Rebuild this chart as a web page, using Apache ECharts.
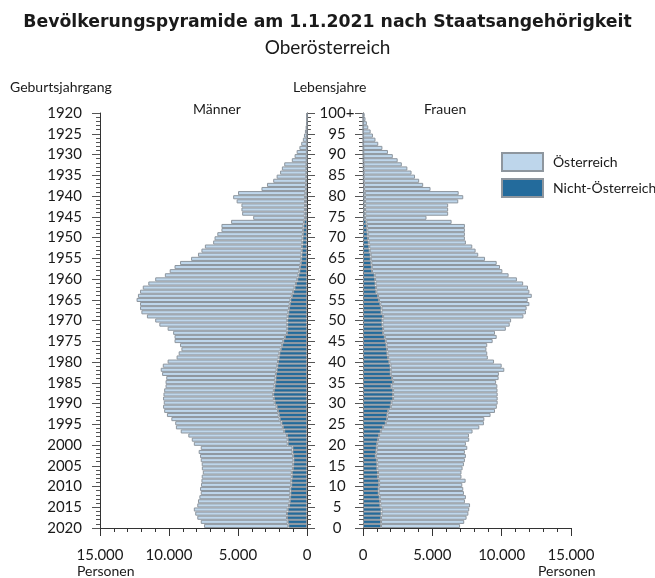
<!DOCTYPE html>
<html>
<head>
<meta charset="utf-8">
<script src="https://cdn.jsdelivr.net/npm/echarts@6/dist/echarts.min.js"></script>
<style>
  html, body { margin: 0; padding: 0; background: #fff; }
  #main { width: 655px; height: 578px; }
</style>
</head>
<body>
<div id="main"></div>
<script>
// Alter 0 .. 100+ (Index = Lebensjahre)
var ages = [];
for (var a = 0; a <= 100; a++) ages.push(a === 100 ? '100+' : String(a));

// Männer
var menAT = [6110,6300,6500,6650,6800,6650,6650,6580,6500,6550,
  6540,6510,6530,6450,6600,6630,6720,6750,6800,6650,
  6800,6950,7150,7500,7750,7700,7850,8100,8250,8230,
  8040,8030,7950,7950,7900,7950,7920,8250,8400,8300,
  8000,7400,7300,7200,7400,7880,8000,8250,8670,9270,
  9570,10200,10650,10800,10850,11150,11150,11100,11000,10700,
  10300,9680,9400,9100,8750,7980,7500,7270,7040,6460,
  6380,6200,5920,5940,5280,3750,4540,4600,4610,4960,
  5210,4880,3220,2830,2390,2150,1910,1780,1620,1080,
  880,740,540,410,295,215,145,100,70,40,30];
var menNonAT = [1350,1400,1450,1450,1400,1300,1250,1220,1200,1200,
  1140,1140,1100,1100,1020,1000,980,1000,1050,1050,
  1400,1400,1450,1650,1750,1850,1980,2050,2100,2200,
  2340,2400,2450,2400,2350,2300,2280,2250,2200,2150,
  2100,2050,2000,1900,1800,1720,1600,1450,1430,1430,
  1430,1400,1350,1300,1250,1200,1100,1000,900,800,
  700,620,550,500,450,420,400,380,360,340,
  320,300,280,260,220,150,160,150,140,140,
  140,120,80,70,60,50,40,40,30,20,
  20,10,10,10,5,5,5,0,0,0,0];

// Frauen
var womenAT = [5700,6000,6170,6270,6330,6470,6120,6220,6150,6100,
  6000,6240,6020,6020,6150,6250,6350,6500,6390,6530,
  6400,6580,6480,6620,6940,7080,7020,7440,7710,7650,
  7660,7540,7540,7530,7640,7430,7680,7800,8190,8020,
  7550,7190,7200,7170,7270,7710,8070,8070,8850,9180,
  9280,10120,10420,10470,10750,10730,11090,11040,10970,10650,
  10230,9660,9400,9250,9040,8240,7760,7640,7430,7010,
  6990,7010,7040,7070,6150,4430,5980,5990,5990,6720,
  7090,6770,4790,4270,3990,3700,3450,3160,2760,2470,
  2120,1780,1380,1090,890,710,545,375,275,175,115];
var womenNonAT = [1300,1300,1300,1330,1330,1250,1230,1200,1130,1130,
  1160,1160,1080,1080,1030,1030,1000,920,960,990,
  1020,1080,1160,1280,1450,1640,1730,1760,1810,2000,
  2050,2170,2170,2170,2050,2170,2100,2000,2000,1980,
  1900,1810,1760,1730,1690,1640,1570,1450,1450,1400,
  1400,1450,1330,1330,1250,1150,1080,960,930,900,
  870,840,650,630,600,560,550,480,450,410,
  360,340,310,280,240,150,160,150,150,150,
  140,130,80,70,60,50,50,40,40,30,
  30,20,20,10,10,10,5,5,5,5,5];

var FONT = 'Lato';
var TXT = '#1a1a1a';
var LIGHT = '#bed6eb';
var DARK = '#236b9c';
var EDGE = '#8e969e';

function fmt(v) {
  return String(v).replace(/\B(?=(\d{3})+(?!\d))/g, '.');
}

var myChart = echarts.init(document.getElementById('main'));

function txt(text, left, top, size, weight, family) {
  return {
    text: text, left: left, top: top, padding: 0,
    textStyle: { fontFamily: family || FONT, fontSize: size, fontWeight: weight || 'normal', color: TXT }
  };
}

var xCommon = {
  type: 'value', min: 0, max: 15000, interval: 5000,
  splitLine: { show: false },
  axisLine: { show: true, lineStyle: { color: '#333', width: 1 } },
  axisTick: { show: true, length: 8, lineStyle: { color: '#333' } },
  minorTick: { show: true, splitNumber: 5, length: 4, lineStyle: { color: '#333' } },
  axisLabel: { fontFamily: FONT, fontSize: 15, color: TXT, margin: 20, formatter: fmt }
};

var yTicks = {
  type: 'value', min: 0, max: 100, interval: 5,
  splitLine: { show: false },
  axisLine: { show: true, lineStyle: { color: '#333', width: 1 } },
  axisTick: { show: true, length: 8, lineStyle: { color: '#555' } },
  minorTick: { show: true, splitNumber: 5, length: 4, lineStyle: { color: '#555' } }
};

var barStyle = function (c) {
  return { color: c, borderColor: EDGE, borderWidth: 1 };
};

var option = {
  animation: false,
  title: [
    txt('Bevölkerungspyramide am 1.1.2021 nach Staatsangehörigkeit', 'center', 14, 17.3, 'bold', 'DejaVu Sans'),
    txt('Oberösterreich', 'center', 38, 19),
    txt('Geburtsjahrgang', 10, 80, 14),
    txt('Lebensjahre', 293, 80, 14),
    txt('Männer', 193, 102, 14),
    txt('Frauen', 424, 102, 14),
    txt('Personen', 77, 564, 14),
    txt('Personen', 538, 564, 14)
  ],
  legend: {
    data: ['Österreich', 'Nicht-Österreich'],
    orient: 'vertical', left: 501, top: 152,
    itemWidth: 41, itemHeight: 18, itemGap: 6, padding: 0,
    icon: 'rect',
    textStyle: { fontFamily: FONT, fontSize: 14, color: TXT, padding: [0, 0, 0, 5] }
  },
  grid: [
    { left: 100, right: 348, top: 113, bottom: 50 },
    { left: 363, right: 84, top: 113, bottom: 50 }
  ],
  xAxis: [
    Object.assign({}, xCommon, { gridIndex: 0, inverse: true }),
    Object.assign({}, xCommon, { gridIndex: 1 })
  ],
  yAxis: [
    // Balken Männer
    { type: 'category', gridIndex: 0, data: ages, show: false },
    // Lebensjahre-Striche links (zur Mitte)
    Object.assign({}, yTicks, { gridIndex: 0, position: 'right', axisLabel: { show: false } }),
    // Geburtsjahrgang
    Object.assign({}, yTicks, {
      gridIndex: 0, position: 'left',
      axisLabel: { fontFamily: FONT, fontSize: 15, color: TXT, margin: 18,
        formatter: function (v) { return 2020 - v; } }
    }),
    // Balken Frauen
    { type: 'category', gridIndex: 1, data: ages, show: false },
    // Lebensjahre
    Object.assign({}, yTicks, {
      gridIndex: 1, position: 'left',
      axisLabel: { fontFamily: FONT, fontSize: 15, color: TXT, margin: 26, align: 'center',
        formatter: function (v) { return v === 100 ? '100+' : v; } }
    })
  ],
  series: [
    { name: 'Nicht-Österreich', type: 'bar', stack: 'm', xAxisIndex: 0, yAxisIndex: 0,
      barCategoryGap: '0%', itemStyle: barStyle(DARK), data: menNonAT },
    { name: 'Österreich', type: 'bar', stack: 'm', xAxisIndex: 0, yAxisIndex: 0,
      barCategoryGap: '0%', itemStyle: barStyle(LIGHT), data: menAT },
    { name: 'Nicht-Österreich', type: 'bar', stack: 'f', xAxisIndex: 1, yAxisIndex: 3,
      barCategoryGap: '0%', itemStyle: barStyle(DARK), data: womenNonAT },
    { name: 'Österreich', type: 'bar', stack: 'f', xAxisIndex: 1, yAxisIndex: 3,
      barCategoryGap: '0%', itemStyle: barStyle(LIGHT), data: womenAT }
  ]
};

myChart.setOption(option);
</script>
</body>
</html>
